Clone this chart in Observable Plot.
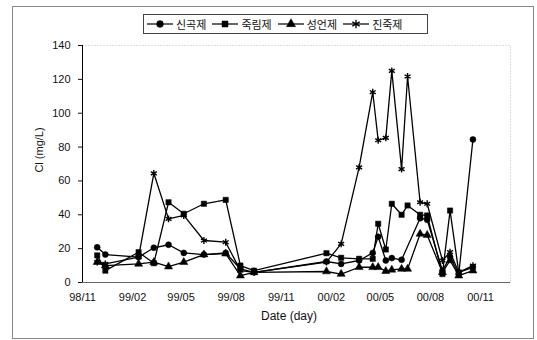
<!DOCTYPE html>
<html><head><meta charset="utf-8">
<script src="https://cdn.jsdelivr.net/npm/d3@7"></script>
<script src="https://cdn.jsdelivr.net/npm/@observablehq/plot@0.6"></script>
<style>
body{margin:0;background:#fff;font-family:"Liberation Sans",Arial,sans-serif;}
#wrap{position:relative;width:537px;height:340px;overflow:hidden;background:#fff;}
#frame{position:absolute;left:12px;top:6px;width:522px;height:333px;border:1px solid #888;box-sizing:border-box;pointer-events:none;}
#head{height:38px;position:relative;}
#legend{position:absolute;left:143px;top:14px;width:285px;height:20px;border:1px solid #444;box-sizing:border-box;display:flex;align-items:center;padding-left:3px;font-family:"Noto Sans CJK KR",sans-serif;font-size:11px;color:#111;}
.item{display:flex;align-items:center;margin-right:6px;}
.item svg{margin-right:3px;}
#chart svg{display:block;}
</style></head>
<body>
<div id="wrap">
  <div id="head"><div id="legend"></div></div>
  <div id="chart"></div>
  <div id="frame"></div>
</div>
<script>
const seriesNames = ["신곡제", "죽림제", "성언제", "진죽제"];
const dates = ["1998-11-28","1998-12-13","1999-02-12","1999-03-12","1999-04-08","1999-05-06","1999-06-12","1999-07-22","1999-08-18","1999-09-12","2000-01-23","2000-02-19","2000-03-23","2000-04-17","2000-04-27","2000-05-11","2000-05-22","2000-06-09","2000-06-20","2000-07-13","2000-07-26","2000-08-23","2000-09-06","2000-09-22","2000-10-18"];
const sinValues   = [20.8,16.5,15,20.5,22.3,17.5,16.5,17.5,8,6,12.4,11,13,17.5,27,13,14.4,13.4,null,38,37,7,15,5,84.5];
const jukValues   = [16,7,17.9,11.4,47.4,40.6,46.5,48.8,10,7,17.3,14.6,14,14,34.7,19.5,46.5,40,45.5,40,39.6,5,42.5,6,9];
const seongValues = [12,10,11,12,9.4,12,16.5,17,4,6,6.5,5,9,9,9,6.7,7.5,8,8,28.7,28,6,13,4,7];
const jinValues   = [12,11,15,64.5,37.6,39.6,24.8,23.8,7,6,12,22.8,68,112.4,84,85.4,125,67,121.7,47.4,46.5,13,17.9,6,10];
const yTicks = [0,20,40,60,80,100,120,140];
const xTickDates = ["1998-11-01","1999-02-01","1999-05-01","1999-08-01","1999-11-01","2000-02-01","2000-05-01","2000-08-01","2000-11-01"];
const xTickLabels = ["98/11","99/02","99/05","99/08","99/11","00/02","00/05","00/08","00/11"];
const xDomain = ["1998-11-01","2000-12-26"];
const yLabel = "Cl (mg/L)";
const xLabel = "Date (day)";

const allValues = [sinValues, jukValues, seongValues, jinValues];
const rows = [];
seriesNames.forEach((s, k) => {
  allValues[k].forEach((v, i) => {
    if (v != null) rows.push({series: s, date: new Date(dates[i]), value: v});
  });
});
const tickDates = xTickDates.map(d => new Date(d));
const symbols = ["circle","square","triangle","asterisk"];

const chart = Plot.plot({
  width: 537, height: 302,
  marginTop: 7, marginBottom: 58, marginLeft: 82, marginRight: 27,
  style: {fontFamily: "'Liberation Sans', Arial, sans-serif", fontSize: "11px", color: "#111", background: "transparent"},
  x: {type: "utc", domain: xDomain.map(d => new Date(d))},
  y: {domain: [0, 140]},
  symbol: {domain: seriesNames, range: symbols},
  marks: [
    Plot.frame({stroke: "#bbb", strokeDasharray: "1,2"}),
    Plot.axisY({ticks: yTicks, tickSize: 4, tickPadding: 8, label: null}),
    Plot.axisX({ticks: tickDates, tickSize: 0, tickPadding: 11, label: null,
      tickFormat: d => xTickLabels[tickDates.findIndex(t => +t === +d)]}),
    Plot.ruleX([new Date(xDomain[0])], {stroke: "#000"}),
    Plot.ruleY([0], {stroke: "#666"}),
    Plot.line(rows, {x: "date", y: "value", z: "series", stroke: "#000", strokeWidth: 1.3}),
    Plot.dot(rows, {x: "date", y: "value", symbol: "series",
      fill: d => d.series === "진죽제" ? "none" : "#000",
      stroke: "#000", strokeWidth: d => d.series === "진죽제" ? 1.4 : 0.5,
      r: d => d.series === "진죽제" ? 4.5 : 3.9})
  ]
});

const svg = d3.select(chart);
svg.append("text").attr("transform", "translate(40,112) rotate(-90)")
  .attr("text-anchor", "middle").attr("dominant-baseline", "middle")
  .attr("font-size", 11).attr("fill", "#111").text(yLabel);
svg.append("text").attr("x", 289).attr("y", 279)
  .attr("text-anchor", "middle").attr("dominant-baseline", "middle")
  .attr("font-size", 12).attr("fill", "#111").text(xLabel);
document.getElementById("chart").appendChild(chart);

// legend
const legend = d3.select("#legend");
seriesNames.forEach((s, k) => {
  const it = legend.append("div").attr("class", "item");
  const sw = it.append("svg").attr("width", 26).attr("height", 12);
  sw.append("line").attr("x1", 0).attr("x2", 26).attr("y1", 6).attr("y2", 6).attr("stroke", "#000").attr("stroke-width", 1.2);
  const sym = d3.symbol().type([d3.symbolCircle, d3.symbolSquare, d3.symbolTriangle, d3.symbolAsterisk][k]).size(k === 3 ? 50 : 36);
  sw.append("path").attr("d", sym()).attr("transform", "translate(13,6)")
    .attr("fill", k === 3 ? "none" : "#000").attr("stroke", "#000").attr("stroke-width", k === 3 ? 1.3 : 0.5);
  it.append("span").text(s);
});
</script>
</body></html>
